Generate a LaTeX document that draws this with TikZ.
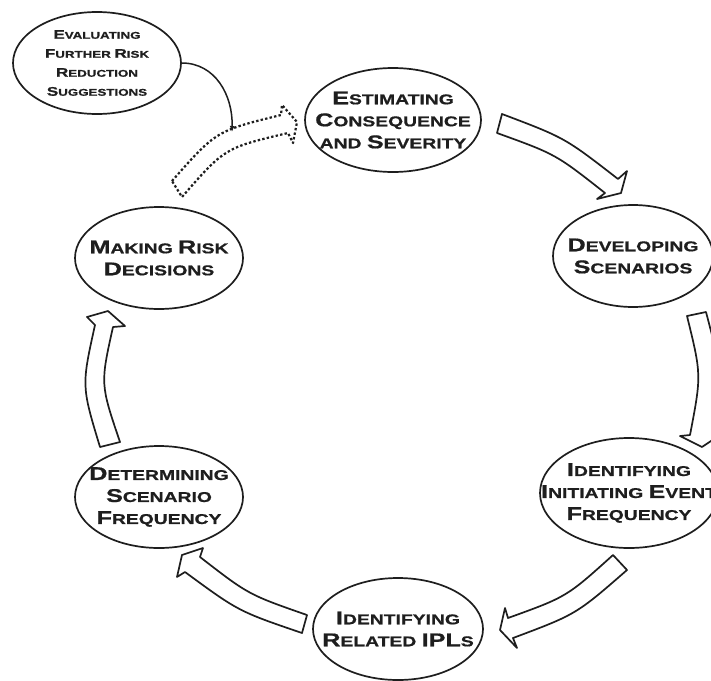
\documentclass[tikz,border=0pt]{standalone}
\usepackage{fontspec}
\newfontfamily\lab{Liberation Sans}[FakeStretch=1.36,FakeBold=0.8]
\usetikzlibrary{shapes.geometric,arrows.meta}
\definecolor{ink}{HTML}{1E1E1E}
\def\bigsz{18}
\newcommand\BC[1]{{\fontsize{\bigsz}{\bigsz}\selectfont #1}}
\tikzset{
  stage/.style={draw=ink, line width=1.7pt, ellipse, inner sep=0pt},
  stagetext/.style={align=center, text=ink,
    font={\lab\bfseries\fontsize{14.2}{22}\selectfont\def\bigsz{18.5}}},
  smalltext/.style={align=center, text=ink,
    font={\lab\bfseries\fontsize{9.8}{19}\selectfont\def\bigsz{12.5}}},
  blockarrow/.style={draw=ink, line width=1.7pt, fill=white, line join=round},
  dottedarrow/.style={draw=ink, line width=2.2pt, dash pattern=on 2.4pt off 2.2pt, line join=round},
  thinarrow/.style={draw=ink, line width=1.5pt, -{Latex[length=6pt,width=5pt]}}
}
\begin{document}
\begin{tikzpicture}[x=1pt,y=-1pt]
\useasboundingbox (0,0) rectangle (711,680);
\clip (0,0) rectangle (711,680);
\fill[white] (0,0) rectangle (711,680);

% stages
\node[stage, minimum width=168pt, minimum height=102pt,
  label={[smalltext]center:\BC{E}VALUATING\\\BC{F}URTHER \BC{R}ISK\\\BC{R}EDUCTION\\\BC{S}UGGESTIONS}]
  (evl) at (97,63) {};
\node[stage, minimum width=176pt, minimum height=104pt,
  label={[stagetext]center:\BC{E}STIMATING\\\BC{C}ONSEQUENCE\\AND \BC{S}EVERITY}]
  (est) at (393,120) {};
\node[stage, minimum width=160pt, minimum height=102pt,
  label={[stagetext]center:\BC{D}EVELOPING\\\BC{S}CENARIOS}]
  (dev) at (633,256) {};
\node[stage, minimum width=178pt, minimum height=110pt,
  label={[stagetext]center:\BC{I}DENTIFYING\\\BC{I}NITIATING \BC{E}VENT\\\BC{F}REQUENCY}]
  (ini) at (629,493) {};
\node[stage, minimum width=170pt, minimum height=102pt,
  label={[stagetext]center:\BC{I}DENTIFYING\\\BC{R}ELATED \BC{IPL}S}]
  (ipl) at (398,629) {};
\node[stage, minimum width=168pt, minimum height=102pt,
  label={[stagetext]center:\BC{D}ETERMINING\\\BC{S}CENARIO\\\BC{F}REQUENCY}]
  (det) at (159,497) {};
\node[stage, minimum width=168pt, minimum height=102pt,
  label={[stagetext]center:\BC{M}AKING \BC{R}ISK\\\BC{D}ECISIONS}]
  (mak) at (159,258) {};

% block arrows around the cycle
\draw[blockarrow] (502,114) .. controls (564.9,137.8) .. (618,179) -- (627,171) -- (621,193)
  -- (597,199) -- (605,193) .. controls (555.9,154.3) .. (497,133) -- cycle;
\draw[blockarrow] (706,312) .. controls (722,373) .. (712,434) -- (723,433) -- (702,447)
  -- (680,436) -- (690,435) .. controls (701.5,375) .. (687,316) -- cycle;
\draw[blockarrow] (613,555) .. controls (566.7,596.8) .. (508,618) -- (505,608) -- (500,630)
  -- (517,648) -- (513,638) .. controls (576.2,614.3) .. (627,570) -- cycle;
\draw[blockarrow] (307,615) .. controls (248.5,594.6) .. (200,557) -- (203,548) -- (182,555)
  -- (177,577) -- (185,572) .. controls (238.5,611.3) .. (302,633) -- cycle;
\draw[blockarrow] (100,447) .. controls (81.5,386) .. (95,325) -- (87,317) -- (108,311)
  -- (125,326) -- (113,327) .. controls (100.3,384) .. (120,442) -- cycle;

% dotted arrow from Making Risk Decisions back to Estimating
\draw[dottedarrow] (172,181) .. controls (216.1,130.9) .. (281,115) -- (282,105) -- (297,122)
  -- (293,143) -- (288,133) .. controls (224.7,147.9) .. (182,197) -- cycle;

% thin arrow from Evaluating
\coordinate (join) at (232,132);
\draw[thinarrow] (evl.east) .. controls (215,63) and (233,95) .. (join);
\end{tikzpicture}
\end{document}
